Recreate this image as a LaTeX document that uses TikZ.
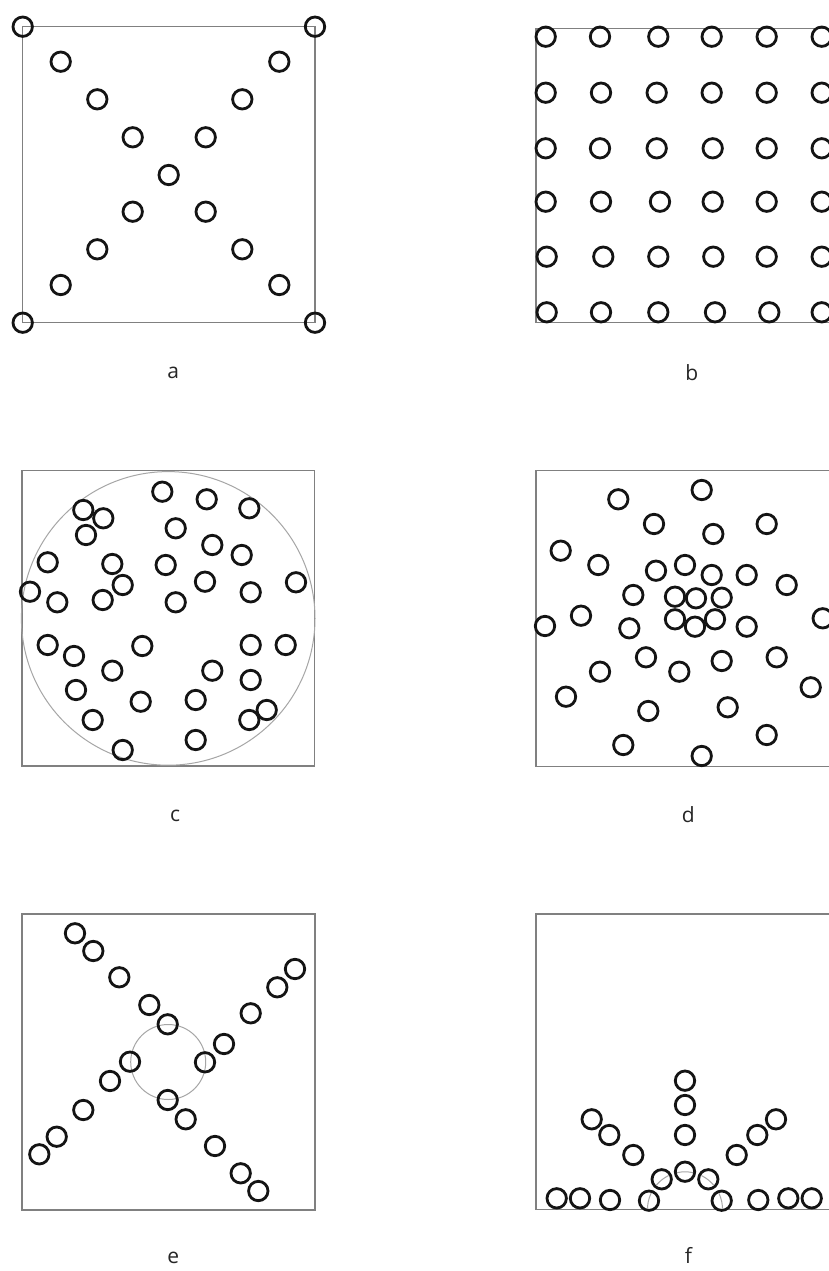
\documentclass[tikz,border=0pt]{standalone}
\usepackage{fontspec}
\setmainfont{Open Sans}
\begin{document}
\begin{tikzpicture}[x=1pt,y=-1pt,
  ring/.style={draw=black!92,line width=2.8pt,circle,inner sep=0pt,minimum size=19.4pt},
  frame/.style={draw=black!50,line width=1.5pt},
  guide/.style={draw=black!35,line width=1pt},
  lab/.style={font=\fontsize{21}{25}\selectfont,text=black!85,inner sep=0pt}]
\useasboundingbox (0,0) rectangle (829,1271);
\fill[white] (0,0) rectangle (829,1271);

% ---------- panel a ----------
\draw[frame] (22.7,26.7) rectangle (315,322.7);
\foreach \x/\y [count=\i] in {22.7/26.7,315/26.7,22.7/322.7,315/322.7,
  60.7/61.7,279.3/61.7,97.3/99.3,242.3/99.3,132.7/137.3,205.7/137.3,
  168.7/175,132.7/211.7,205.7/211.7,97.3/249.3,242.3/249.3,60.7/285,279.3/285}
  \node[ring] (a\i) at (\x,\y) {};
\node[lab] (la) at (173.3,373) {a};

% ---------- panel b ----------
\draw[frame] (835,28.3) -- (536,28.3) -- (536,322.7) -- (835,322.7);
\foreach \x/\y [count=\i] in {
  545.7/36.7,600/36.7,658.3/36.7,711.7/36.7,766.7/36.7,821.7/36.7,
  545.7/92.7,601/92.7,656.7/92.7,711.7/92.7,766.7/92.7,821.7/92.7,
  545.7/148.3,600/148.3,656.7/148.3,712.7/148.3,766.7/148.3,821.7/148.3,
  545.7/201.7,601/201.7,660/201.7,712.7/201.7,766.7/201.7,821.7/201.7,
  546.7/256.7,603.3/256.7,658.3/256.7,713.3/256.7,766.7/256.7,821.7/256.7,
  546.7/312.3,601/312.3,658.3/312.3,715/312.3,769.3/312.3,821.7/312.3}
  \node[ring] (b\i) at (\x,\y) {};
\node[lab] (lb) at (691.7,373) {b};

% ---------- panel c ----------
\draw[frame] (22,470.7) rectangle (314.3,766);
\coordinate (cc) at (168.2,618.4);
\draw[guide] (cc) circle (146.8pt);
\foreach \x/\y [count=\i] in {162.3/491.7,206.7/499.3,249.3/508.3,83.3/510,103.3/518.3,
  86/535,175.7/528.3,212.3/545,241.7/555,47.7/562.3,112.3/564,165.7/565,
  122.7/585,205/581.7,296/582.3,30/591.7,57.3/602.3,102.7/600,175.7/602.3,
  250.7/592.3,47.7/645,74/656,142.3/646,250.7/645,285.7/645,112.3/670.7,
  212.3/670.7,250.7/680,76/690,140.7/701.7,195.7/700,266.7/710,92.7/720,
  249.3/720,195.7/740,122.7/750}
  \node[ring] (c\i) at (\x,\y) {};
\node[lab] (lc) at (175,816) {c};

% ---------- panel d ----------
\draw[frame] (835,470.7) -- (536,470.7) -- (536,766.7) -- (835,766.7);
\foreach \x/\y [count=\i] in {701.7/490,618.3/499.3,654/524,713.3/534,766.7/524,
  560.7/550.7,598.3/565,656/570.7,685/565,711.7/575,746.7/575,786.7/585,
  633.3/595,675/596.7,696/598.3,721.7/597.7,581/615.7,545/626,629.3/628.3,
  675/619.3,695/626.7,715/619.3,746.7/626.7,822.7/618.3,646/657.3,679.3/671.7,
  721.7/661,776.7/657.3,600/671.7,810.7/687.3,566/696.7,648.3/711,727.7/707.3,
  766.7/735,623.3/745,701.7/756}
  \node[ring] (d\i) at (\x,\y) {};
\node[lab] (ld) at (688.3,815) {d};

% ---------- panel e ----------
\draw[frame] (22,914) rectangle (315,1210);
\coordinate (ec) at (168.2,1062);
\draw[guide] (ec) circle (37.5pt);
\foreach \x/\y [count=\i] in {75/933.3,93.3/951,119.3/977.3,149.3/1005,167.7/1024.3,
  295/969,277.3/987.3,250.7/1013.3,224/1044,205/1062.3,
  130/1061.7,110/1081,83.3/1110,56.7/1136.7,39.3/1154.3,
  167.7/1100,185.7/1119.3,215/1146,240.7/1173.3,258.3/1191}
  \node[ring] (e\i) at (\x,\y) {};
\node[lab] (le) at (173.3,1258) {e};

% ---------- panel f ----------
\draw[frame] (835,914) -- (536,914) -- (536,1209.3) -- (835,1209.3);
\foreach \x/\y [count=\i] in {685/1080.7,685/1105,685/1135,685/1171.7,
  591.7/1119.3,609.3/1135,633.3/1155,661.7/1179.3,
  776/1119.3,757.3/1135,736.7/1155,708.3/1179.3,
  556.7/1198.3,580/1198.3,610/1200,649/1200.7,
  721.7/1200.7,758.3/1200,788.3/1198.3,811.7/1198.3}
  \node[ring] (f\i) at (\x,\y) {};
\coordinate (fc) at (685,1209.3);
\begin{scope}
  \clip (f4.center) circle (8.2pt) (f8.center) circle (8.2pt) (f12.center) circle (8.2pt)
        (f16.center) circle (8.2pt) (f17.center) circle (8.2pt);
  \draw[guide] (fc) circle (37.5pt);
\end{scope}
\node[lab] (lf) at (688.3,1255) {f};
\end{tikzpicture}
\end{document}
